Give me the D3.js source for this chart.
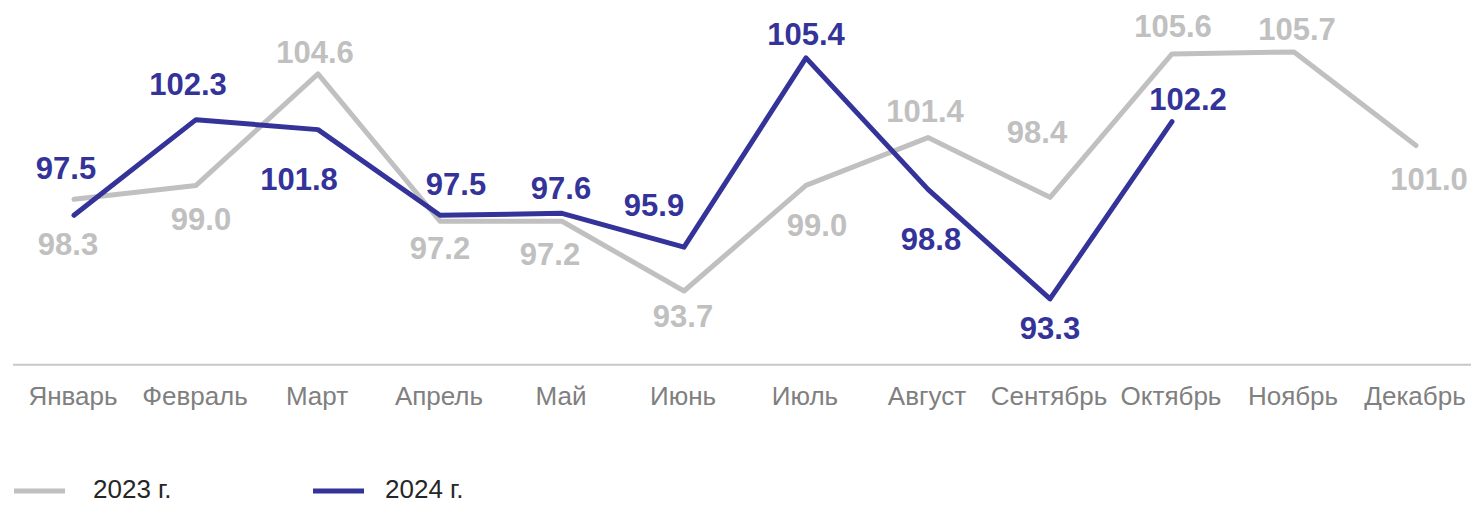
<!DOCTYPE html>
<html>
<head>
<meta charset="utf-8">
<script src="https://cdn.jsdelivr.net/npm/d3@7"></script>
<style>
    body { margin: 0; background: #fff; }
    svg { display: block; font-family: "Liberation Sans", Arial, sans-serif; }
    .month { fill: #808080; font-size: 26px; }
    .legend text { fill: #262626; font-size: 26px; }
</style>
</head>
<body>
<div id="chart"></div>
<script>
const months = ["Январь", "Февраль", "Март", "Апрель", "Май", "Июнь", "Июль", "Август", "Сентябрь", "Октябрь", "Ноябрь", "Декабрь"];
const values2023 = [98.3, 99.0, 104.6, 97.2, 97.2, 93.7, 99.0, 101.4, 98.4, 105.6, 105.7, 101.0];
const values2024 = [97.5, 102.3, 101.8, 97.5, 97.6, 95.9, 105.4, 98.8, 93.3, 102.2];
const seriesNames = ["2023 г.", "2024 г."];

// label nudges (dx, dy from the point), placed by hand like in the original
const labelShift2023 = [[-6, 56], [5, 45], [-3, -11], [0, 38], [-12, 44], [-1, 36], [11, 51], [-3, -16], [-13, -54], [1, -17], [3, -12], [13, 44]];
const labelShift2024 = [[-8, -36], [-8, -25], [-19, 60], [16, -20], [-1, -14], [-30, -31], [0, -13], [3, 61], [0, 40], [16, -12]];

function init() {
    const width = 1471, height = 505;
    const colors = ["#c0c0c0", "#333399"];

    const svg = d3.select('#chart')
        .append('svg')
        .attr('width', width)
        .attr('height', height);

    const xScale = d3.scalePoint()
        .domain(months)
        .range([74, 1416]);

    const yScale = d3.scaleLinear()
        .domain([90, 108])
        .range([364.7, 6.1]);

    // baseline
    svg.append('line')
        .attr('x1', 13).attr('x2', width)
        .attr('y1', yScale(90)).attr('y2', yScale(90))
        .attr('stroke', '#c8c8c8')
        .attr('stroke-width', 2);

    // month labels
    svg.selectAll('.month')
        .data(months)
        .join('text')
        .attr('class', 'month')
        .attr('x', d => xScale(d) - 1)
        .attr('y', 405)
        .attr('text-anchor', 'middle')
        .text(d => d);

    const line = d3.line()
        .x((d, i) => xScale(months[i]))
        .y(d => yScale(d));

    const series = [
        {values: values2023, shifts: labelShift2023, color: colors[0]},
        {values: values2024, shifts: labelShift2024, color: colors[1]}
    ];

    series.forEach(s => {
        svg.append('path')
            .datum(s.values)
            .attr('fill', 'none')
            .attr('stroke', s.color)
            .attr('stroke-width', 5)
            .attr('stroke-linejoin', 'round')
            .attr('stroke-linecap', 'round')
            .attr('d', line);
    });

    series.forEach(s => {
        svg.selectAll(null)
            .data(s.values)
            .join('text')
            .attr('x', (d, i) => xScale(months[i]) + s.shifts[i][0])
            .attr('y', (d, i) => yScale(d) + s.shifts[i][1])
            .attr('text-anchor', 'middle')
            .style('font-size', '31px')
            .style('font-weight', 'bold')
            .style('fill', s.color)
            .text(d => d.toFixed(1));
    });

    // legend
    const legend = svg.append('g').attr('class', 'legend');
    const legendX = [14, 313];
    const legendTextX = [93, 385];
    seriesNames.forEach((name, i) => {
        legend.append('line')
            .attr('x1', legendX[i]).attr('x2', legendX[i] + 51)
            .attr('y1', 491).attr('y2', 491)
            .attr('stroke', colors[i])
            .attr('stroke-width', 5);
        legend.append('text')
            .attr('x', legendTextX[i])
            .attr('y', 498)
            .text(name);
    });
}

window.addEventListener('load', init);
</script>
</body>
</html>
